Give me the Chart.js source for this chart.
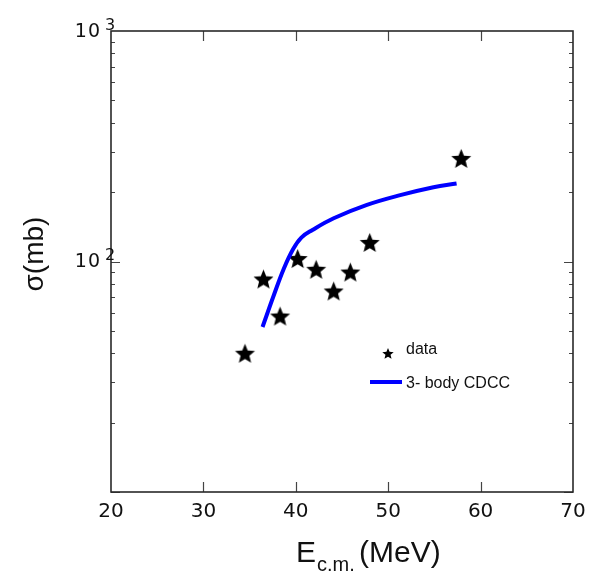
<!DOCTYPE html>
<html>
<head>
<meta charset="utf-8">
<script src="https://cdn.jsdelivr.net/npm/chart.js@4/dist/chart.umd.min.js"></script>
<style>
  html, body { margin: 0; padding: 0; background: #fff; }
  #chart { display: block; }
</style>
</head>
<body>
<canvas id="chart" width="596" height="574"></canvas>
<script>
// measured cross sections
const dataE = [34.5, 36.5, 38.3, 40.2, 42.2, 44.1, 45.9, 48.0, 57.9];
const dataSigma = [40, 84, 58, 103, 92.5, 74.5, 90, 121, 280];

// 3-body CDCC calculation
const cdccE = [36.4, 37.6, 38.7, 39.7, 40.6, 41.8, 44.1, 47.7, 51.3, 54.9, 57.4];
const cdccSigma = [52, 71, 93, 113, 127, 137, 154, 176, 194, 210, 218];

const xTicks = [20, 30, 40, 50, 60, 70];
const yDecades = [1, 2, 3];

const axisFont = '"DejaVu Sans", sans-serif';
const textFont = '"Liberation Sans", Arial, sans-serif';

function drawStar(ctx, cx, cy, r) {
  const inner = r * 0.44;
  ctx.beginPath();
  for (let i = 0; i < 10; i++) {
    const rad = i % 2 === 0 ? r : inner;
    const a = -Math.PI / 2 + i * Math.PI / 5;
    const px = cx + rad * Math.cos(a);
    const py = cy + rad * Math.sin(a);
    if (i === 0) ctx.moveTo(px, py); else ctx.lineTo(px, py);
  }
  ctx.closePath();
  ctx.fillStyle = '#000';
  ctx.fill();
}

function starImage(r) {
  const c = document.createElement('canvas');
  c.width = c.height = Math.ceil(r * 2 + 2);
  drawStar(c.getContext('2d'), c.width / 2, c.height / 2 + r * 0.1, r);
  return c;
}

const frame = {
  id: 'frame',
  afterDraw(chart) {
    const { ctx, chartArea: a } = chart;
    const xs = chart.scales.x;
    const ys = chart.scales.y;
    ctx.save();

    // ticks on all four sides, pointing inward
    ctx.strokeStyle = '#444';
    ctx.lineWidth = 1.2;
    ctx.beginPath();
    xTicks.slice(1, -1).forEach((v) => {
      const x = Math.round(xs.getPixelForValue(v)) + 0.5;
      ctx.moveTo(x, a.bottom); ctx.lineTo(x, a.bottom - 10);
      ctx.moveTo(x, a.top); ctx.lineTo(x, a.top + 10);
    });
    for (let d = 1; d < 3; d++) {
      for (let m = 1; m <= 9; m++) {
        const y = Math.round(ys.getPixelForValue(m * Math.pow(10, d))) + 0.5;
        const len = m === 1 ? 9 : 4;
        ctx.moveTo(a.left, y); ctx.lineTo(a.left + len, y);
        ctx.moveTo(a.right, y); ctx.lineTo(a.right - len, y);
      }
    }
    ctx.stroke();

    // frame
    ctx.strokeStyle = '#282828';
    ctx.lineWidth = 1.6;
    ctx.strokeRect(a.left, a.top, a.right - a.left, a.bottom - a.top);

    // x tick labels
    ctx.fillStyle = '#111';
    ctx.font = '20px ' + axisFont;
    ctx.textAlign = 'center';
    ctx.textBaseline = 'alphabetic';
    xTicks.forEach((v) => {
      ctx.fillText(String(v), xs.getPixelForValue(v), a.bottom + 25);
    });

    // y tick labels 10^n
    yDecades.forEach((d) => {
      if (d === 1) return;
      const y = ys.getPixelForValue(Math.pow(10, d));
      ctx.font = '19px ' + axisFont;
      ctx.letterSpacing = '1px';
      ctx.textAlign = 'right';
      ctx.fillText('10', a.left - 10, y + 5.5);
      ctx.letterSpacing = '0px';
      ctx.font = '16px ' + axisFont;
      ctx.textAlign = 'left';
      ctx.fillText(String(d), a.left - 6, y - 1.5);
    });

    // axis titles
    ctx.font = '30px ' + textFont;
    ctx.textAlign = 'left';
    ctx.fillText('E', 296, 562);
    ctx.font = '20px ' + textFont;
    ctx.fillText('c.m.', 317, 571);
    ctx.font = '30px ' + textFont;
    ctx.fillText('(MeV)', 359, 562);

    ctx.save();
    ctx.translate(43, 254);
    ctx.rotate(-Math.PI / 2);
    ctx.font = '28px ' + textFont;
    ctx.textAlign = 'center';
    ctx.fillText('σ(mb)', 0, 0);
    ctx.restore();

    // legend
    drawStar(ctx, 388, 354, 6);
    ctx.font = '16px ' + textFont;
    ctx.textAlign = 'left';
    ctx.fillStyle = '#111';
    ctx.fillText('data', 406, 354);
    ctx.strokeStyle = '#0000ff';
    ctx.lineWidth = 4;
    ctx.beginPath();
    ctx.moveTo(370, 382); ctx.lineTo(402, 382);
    ctx.stroke();
    ctx.fillText('3- body CDCC', 406, 388);

    ctx.restore();
  },
};

new Chart(document.getElementById('chart'), {
  type: 'scatter',
  data: {
    datasets: [
      {
        label: '3- body CDCC',
        type: 'line',
        data: cdccE.map((x, i) => ({ x, y: cdccSigma[i] })),
        borderColor: '#0000ff',
        borderWidth: 4,
        pointRadius: 0,
        tension: 0.4,
        fill: false,
      },
      {
        label: 'data',
        data: dataE.map((x, i) => ({ x, y: dataSigma[i] })),
        pointStyle: starImage(10.5),
        pointRadius: 10,
      },
    ],
  },
  options: {
    responsive: false,
    animation: false,
    events: [],
    layout: { padding: { left: 111, right: 23, top: 31, bottom: 82 } },
    plugins: { legend: { display: false }, tooltip: { enabled: false } },
    scales: {
      x: { type: 'linear', min: 20, max: 70, display: false },
      y: { type: 'logarithmic', min: 10, max: 1000, display: false },
    },
  },
  plugins: [frame],
});
</script>
</body>
</html>
